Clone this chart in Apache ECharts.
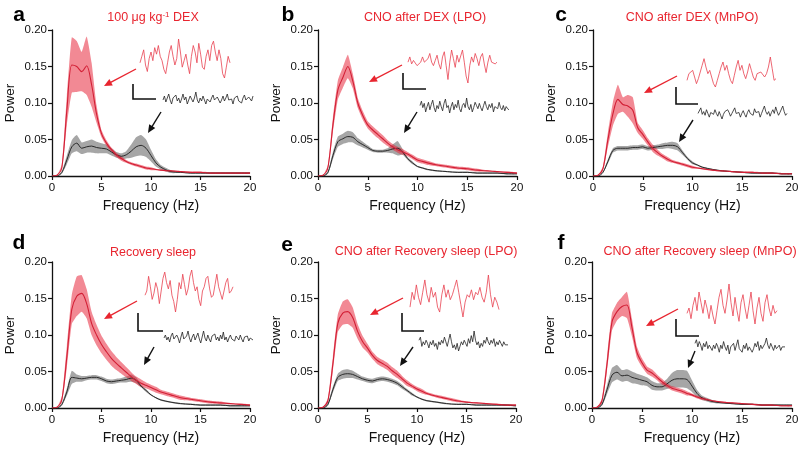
<!DOCTYPE html>
<html><head><meta charset="utf-8">
<script src="https://cdn.jsdelivr.net/npm/echarts@6/dist/echarts.min.js"></script>
<style>html,body{margin:0;padding:0;background:#fff}#c{width:800px;height:455px}</style>
</head><body><div id="c"></div><script>
// ---------- DATA ----------
const freq = [0,0.5,1,1.5,2,2.5,3,3.5,4,4.5,5,5.5,6,6.5,7,7.5,8,8.5,9,9.5,10,10.5,11,12,13,14,15,16,17,18,19,20];
const yTicks = [0, 0.05, 0.10, 0.15, 0.20];
const xTicks = [0, 5, 10, 15, 20];
const panelLetters = ['a','b','c','d','e','f'];
const panelTitles = ['100 μg kg{sup|-1} DEX','CNO after DEX (LPO)','CNO after DEX (MnPO)','Recovery sleep','CNO after Recovery sleep (LPO)','CNO after Recovery sleep (MnPO)'];

const aRedMean = [0,0.001,0.012,0.09,0.152,0.150,0.143,0.151,0.125,0.085,0.058,0.045,0.036,0.029,0.024,0.020,0.017,0.015,0.013,0.011,0.010,0.009,0.008,0.007,0.006,0.005,0.005,0.004,0.004,0.004,0.004,0.004];
const aRedSem  = [0,0,0.004,0.02,0.038,0.035,0.027,0.040,0.030,0.012,0.005,0.004,0.003,0.003,0.003,0.002,0.002,0.002,0.002,0.002,0.002,0.001,0.001,0.001,0.001,0.001,0.001,0.001,0.001,0.001,0.001,0.001];
const aBlkMean = [0,0,0.005,0.022,0.040,0.045,0.038,0.040,0.041,0.039,0.038,0.037,0.033,0.029,0.027,0.029,0.034,0.040,0.042,0.038,0.028,0.018,0.012,0.006,0.005,0.004,0.004,0.004,0.004,0.004,0.004,0.004];
const aBlkSem  = [0,0,0.002,0.006,0.009,0.011,0.008,0.008,0.009,0.008,0.007,0.006,0.005,0.004,0.004,0.005,0.009,0.013,0.014,0.012,0.008,0.005,0.003,0.002,0.001,0.001,0.001,0.001,0.001,0.001,0.001,0.001];

const bRedMean = [0,0.001,0.012,0.07,0.118,0.135,0.150,0.130,0.100,0.083,0.070,0.063,0.057,0.051,0.045,0.040,0.036,0.033,0.030,0.026,0.022,0.020,0.018,0.015,0.013,0.011,0.010,0.008,0.007,0.006,0.005,0.004];
const bRedSem  = [0,0,0.003,0.010,0.013,0.014,0.016,0.010,0.007,0.006,0.005,0.005,0.005,0.005,0.004,0.004,0.004,0.004,0.003,0.003,0.003,0.003,0.003,0.002,0.002,0.002,0.002,0.002,0.001,0.001,0.001,0.001];
const bBlkMean = [0,0,0.005,0.028,0.047,0.051,0.054,0.053,0.047,0.043,0.039,0.035,0.034,0.034,0.035,0.037,0.038,0.033,0.024,0.018,0.013,0.011,0.009,0.007,0.006,0.005,0.005,0.004,0.004,0.004,0.003,0.003];
const bBlkSem  = [0,0,0.002,0.005,0.007,0.007,0.008,0.007,0.005,0.004,0.003,0.002,0.002,0.002,0.003,0.006,0.010,0.004,0.002,0.002,0.001,0.001,0.001,0.001,0.001,0.001,0.001,0.001,0.001,0.001,0.001,0.001];

const cRedMean = [0,0.001,0.010,0.050,0.085,0.105,0.098,0.096,0.090,0.066,0.057,0.047,0.038,0.032,0.027,0.023,0.020,0.018,0.016,0.014,0.012,0.011,0.010,0.008,0.007,0.006,0.005,0.005,0.004,0.004,0.003,0.003];
const cRedSem  = [0,0,0.003,0.010,0.016,0.020,0.010,0.015,0.018,0.007,0.006,0.005,0.005,0.004,0.003,0.003,0.002,0.002,0.002,0.002,0.002,0.001,0.001,0.001,0.001,0.001,0.001,0.001,0.001,0.001,0.001,0.001];
const cBlkMean = [0,0,0.005,0.020,0.035,0.038,0.038,0.038,0.039,0.039,0.040,0.038,0.039,0.040,0.041,0.042,0.042,0.040,0.032,0.024,0.018,0.015,0.012,0.009,0.007,0.006,0.005,0.004,0.004,0.004,0.003,0.003];
const cBlkSem  = [0,0,0.001,0.003,0.003,0.003,0.003,0.003,0.003,0.003,0.003,0.003,0.003,0.003,0.004,0.004,0.005,0.005,0.003,0.002,0.002,0.001,0.001,0.001,0.001,0.001,0.001,0.001,0.001,0.001,0.001,0.001];

const dRedMean = [0,0.001,0.012,0.070,0.135,0.153,0.157,0.143,0.116,0.100,0.087,0.077,0.068,0.061,0.055,0.049,0.043,0.038,0.034,0.031,0.028,0.025,0.022,0.018,0.014,0.012,0.010,0.008,0.007,0.006,0.005,0.004];
const dRedSem  = [0,0,0.004,0.015,0.020,0.027,0.025,0.020,0.016,0.014,0.012,0.011,0.010,0.009,0.008,0.007,0.006,0.005,0.005,0.004,0.004,0.004,0.003,0.003,0.003,0.002,0.002,0.002,0.002,0.001,0.001,0.001];
const dBlkMean = [0,0,0.005,0.022,0.042,0.041,0.040,0.041,0.042,0.042,0.040,0.037,0.036,0.037,0.038,0.039,0.041,0.038,0.030,0.024,0.018,0.014,0.011,0.008,0.006,0.005,0.004,0.004,0.004,0.003,0.003,0.003];
const dBlkSem  = [0,0,0.002,0.005,0.009,0.005,0.004,0.003,0.003,0.003,0.003,0.003,0.003,0.003,0.003,0.004,0.005,0.004,0.002,0.002,0.001,0.001,0.001,0.001,0.001,0.001,0.001,0.001,0.001,0.001,0.001,0.001];

const eRedMean = [0,0.001,0.010,0.060,0.116,0.130,0.132,0.124,0.105,0.091,0.082,0.072,0.065,0.061,0.057,0.051,0.046,0.040,0.034,0.030,0.026,0.023,0.020,0.016,0.013,0.010,0.008,0.007,0.006,0.005,0.004,0.004];
const eRedSem  = [0,0,0.003,0.010,0.012,0.016,0.017,0.014,0.010,0.008,0.006,0.005,0.005,0.005,0.005,0.005,0.005,0.004,0.004,0.003,0.003,0.003,0.002,0.002,0.002,0.002,0.001,0.001,0.001,0.001,0.001,0.001];
const eBlkMean = [0,0,0.005,0.025,0.042,0.046,0.047,0.046,0.043,0.040,0.038,0.037,0.039,0.040,0.039,0.037,0.034,0.029,0.024,0.019,0.015,0.012,0.010,0.008,0.006,0.005,0.005,0.004,0.004,0.004,0.004,0.003];
const eBlkSem  = [0,0,0.002,0.004,0.005,0.006,0.006,0.005,0.004,0.003,0.003,0.003,0.003,0.003,0.003,0.003,0.003,0.003,0.002,0.002,0.001,0.001,0.001,0.001,0.001,0.001,0.001,0.001,0.001,0.001,0.001,0.001];

const fRedMean = [0,0.001,0.010,0.060,0.118,0.132,0.139,0.141,0.110,0.076,0.062,0.052,0.048,0.042,0.036,0.031,0.027,0.025,0.023,0.020,0.018,0.015,0.013,0.010,0.008,0.007,0.006,0.005,0.004,0.004,0.003,0.003];
const fRedSem  = [0,0,0.003,0.010,0.012,0.012,0.013,0.018,0.012,0.008,0.006,0.005,0.005,0.004,0.004,0.003,0.003,0.003,0.003,0.003,0.002,0.002,0.002,0.001,0.001,0.001,0.001,0.001,0.001,0.001,0.001,0.001];
const fBlkMean = [0,0,0.005,0.025,0.045,0.049,0.044,0.045,0.042,0.040,0.038,0.036,0.031,0.029,0.029,0.033,0.038,0.040,0.040,0.039,0.030,0.020,0.014,0.009,0.007,0.006,0.005,0.005,0.004,0.004,0.004,0.004];
const fBlkSem  = [0,0,0.002,0.006,0.010,0.010,0.008,0.008,0.008,0.007,0.007,0.006,0.006,0.005,0.005,0.007,0.010,0.012,0.012,0.012,0.008,0.005,0.003,0.002,0.001,0.001,0.001,0.001,0.001,0.001,0.001,0.001];

// example EEG traces (arbitrary units)
const aRedTrace = [0.45,0.6,0.75,0.4,0.25,0.55,0.7,0.5,0.8,0.65,0.85,0.6,0.5,0.3,0.2,0.45,0.7,0.85,0.6,0.4,0.55,1.0,0.7,0.35,0.5,0.65,0.4,0.2,0.6,0.85,0.7,0.45,0.9,0.65,0.35,0.3,0.6,0.75,0.5,0.85,0.95,0.7,0.5,0.75,0.55,0.2,0.1,0.35,0.6,0.45];
const bRedTrace = [0.6,0.75,0.55,0.65,0.7,0.5,0.45,0.6,0.75,0.6,0.55,0.7,0.85,0.6,0.5,0.65,0.8,0.55,0.4,0.75,0.9,0.5,0.1,0.6,0.95,0.7,0.45,0.8,0.6,0.55,0.95,0.6,0.2,0.0,0.5,0.75,0.6,0.85,0.7,0.5,0.75,0.85,0.55,0.3,0.6,0.8,0.6,0.65,0.55,0.6];
const cRedTrace = [0.3,0.5,0.45,0.6,0.4,0.2,0.35,0.55,0.75,0.95,0.7,0.5,0.6,0.4,0.2,0.1,0.3,0.5,0.7,0.85,0.6,0.75,0.5,0.3,0.2,0.45,0.7,0.9,0.6,0.75,0.5,0.35,0.55,0.8,0.6,0.4,0.3,0.5,0.45,0.55,0.6,0.4,0.5,0.7,1.0,0.65,0.3,0.35];
const dRedTrace = [0.4,0.5,0.85,0.6,0.3,0.45,0.7,0.55,0.2,0.5,0.8,0.95,0.7,0.55,0.75,0.4,0.25,0.0,0.3,0.7,0.55,0.9,0.65,0.4,0.55,0.85,1.0,0.7,0.5,0.6,0.3,0.15,0.5,0.6,0.8,0.85,0.55,0.35,0.4,0.65,0.9,0.6,0.45,0.3,0.5,0.7,0.8,0.45,0.5,0.6];
const eRedTrace = [0.3,0.6,0.45,0.75,0.5,0.35,0.6,0.85,0.55,0.4,0.7,0.5,0.6,0.3,0.2,0.55,0.75,0.5,0.65,0.45,0.55,0.7,0.85,0.6,0.35,0.1,0.4,0.55,0.5,0.65,0.45,0.6,0.55,0.7,0.5,0.4,0.6,0.95,0.55,0.3,0.5,0.4,0.25];
const fRedTrace = [0.45,0.55,0.35,0.6,0.75,0.5,0.85,0.65,0.45,0.7,0.55,0.35,0.6,0.4,0.25,0.5,0.75,0.9,0.6,0.45,0.7,1.0,0.65,0.4,0.75,0.5,0.3,0.65,0.8,0.55,0.35,0.6,0.85,0.5,0.25,0.55,0.75,0.45,0.3,0.65,0.8,0.55,0.4,0.6,0.45,0.5];
const aBlkTrace = [0.5,0.7,0.4,0.6,0.8,0.5,0.3,0.6,0.5,0.75,0.45,0.6,0.35,0.55,0.8,0.5,0.65,0.3,0.5,0.7,0.55,0.4,0.6,0.9,0.5,0.35,0.6,0.45,0.7,0.5,0.3,0.55,0.65,0.4,0.6,0.75,0.5,0.4,0.65,0.55,0.35,0.5,0.7,0.45,0.6,0.8,0.5,0.4,0.55,0.3,0.6,0.5,0.7,0.45,0.55,0.35,0.6,0.75,0.5,0.4,0.65,0.55,0.45,0.7];
const bBlkTrace = [0.6,0.8,0.5,0.7,0.3,0.55,0.75,0.4,0.65,0.85,0.5,0.3,0.6,0.45,0.8,0.55,0.35,0.7,0.9,0.5,0.6,0.25,0.55,0.75,0.4,0.65,0.5,0.85,0.45,0.3,0.6,0.7,0.5,0.95,0.55,0.4,0.65,0.3,0.5,0.75,0.6,0.45,0.7,0.5,0.35,0.6,0.8,0.55,0.4,0.65,0.5,0.7,0.3,0.55,0.6,0.45,0.75,0.5,0.4,0.6,0.35,0.55,0.45,0.4];
const cBlkTrace = [0.5,0.6,0.8,0.45,0.6,0.4,0.7,0.5,0.3,0.55,0.65,0.45,0.7,0.5,0.35,0.6,0.4,0.2,0.45,0.6,0.5,0.7,0.55,0.35,0.5,0.6,0.8,0.5,0.4,0.55,0.3,0.5,0.65,0.45,0.3,0.55,0.7,0.5,0.6,0.4,0.75,0.55,0.45,0.6,0.3,0.5,0.7,0.9,0.6,0.45,0.6,0.35,0.55,0.7,0.5,0.85,0.6,0.4,0.55,0.65,0.9,0.6,0.4,0.5];
const dBlkTrace = [0.55,0.7,0.45,0.6,0.35,0.65,0.8,0.5,0.4,0.7,0.55,0.3,0.6,0.85,0.5,0.4,0.65,0.9,0.55,0.35,0.6,0.75,0.45,0.55,0.8,0.5,0.3,0.6,0.9,0.55,0.4,0.7,0.5,0.35,0.65,0.55,0.75,0.45,0.6,0.4,0.7,0.5,0.85,0.45,0.6,0.35,0.55,0.7,0.5,0.6,0.4,0.65,0.55,0.45,0.7,0.5,0.35,0.6,0.5,0.65,0.4,0.55,0.5,0.45];
const eBlkTrace = [0.6,0.7,0.4,0.55,0.45,0.6,0.5,0.35,0.55,0.45,0.6,0.4,0.5,0.3,0.55,0.45,0.6,0.5,0.7,0.55,0.4,0.6,0.8,0.55,0.35,0.45,0.3,0.5,0.25,0.4,0.55,0.45,0.6,0.5,0.4,0.65,0.5,0.75,0.55,0.9,0.6,0.45,0.55,0.35,0.5,0.4,0.6,0.5,0.7,0.55,0.45,0.6,0.5,0.65,0.4,0.55,0.45,0.6,0.5,0.4,0.55,0.45,0.5,0.45];
const fBlkTrace = [0.65,0.75,0.55,0.7,0.6,0.45,0.65,0.55,0.7,0.5,0.6,0.55,0.45,0.6,0.5,0.65,0.55,0.4,0.6,0.5,0.7,0.55,0.45,0.6,0.35,0.55,0.5,0.65,0.45,0.6,0.75,0.5,0.55,0.4,0.6,0.5,0.65,0.45,0.55,0.6,0.4,0.5,0.65,0.55,0.7,0.45,0.6,0.5,0.55,0.65,0.8,0.6,0.5,0.65,0.55,0.45,0.6,0.5,0.55,0.6,0.45,0.55,0.5,0.55];

const redMeans = [aRedMean,bRedMean,cRedMean,dRedMean,eRedMean,fRedMean];
const redSems  = [aRedSem,bRedSem,cRedSem,dRedSem,eRedSem,fRedSem];
const blkMeans = [aBlkMean,bBlkMean,cBlkMean,dBlkMean,eBlkMean,fBlkMean];
const blkSems  = [aBlkSem,bBlkSem,cBlkSem,dBlkSem,eBlkSem,fBlkSem];
const redTraces = [aRedTrace,bRedTrace,cRedTrace,dRedTrace,eRedTrace,fRedTrace];
const blkTraces = [aBlkTrace,bBlkTrace,cBlkTrace,dBlkTrace,eBlkTrace,fBlkTrace];

// ---------- LAYOUT ----------
const layout = [
 {grid:{left:52,top:30,width:198,height:146}, letter:[19,15], title:[153,18], red:{left:140,top:39,width:90,height:39}, blk:{left:163,top:92,width:90,height:12}, bar:[133,84,99,156], rA:[136,69,104,86], bA:[161,112,148,133]},
 {grid:{left:318,top:30,width:199,height:146}, letter:[288,15], title:[425,18], red:{left:408,top:50,width:89,height:33}, blk:{left:420,top:98,width:89,height:15}, bar:[403,73,89,426], rA:[402,65,369,82], bA:[417,112,404,133]},
 {grid:{left:593,top:30,width:199,height:146}, letter:[561,15], title:[692,18], red:{left:687,top:57,width:89,height:30}, blk:{left:698,top:106,width:89,height:13}, bar:[676,87,104,698], rA:[677,76,644,93], bA:[693,120,679,142]},
 {grid:{left:52,top:262,width:198,height:146}, letter:[19,243], title:[153,253], red:{left:145,top:270,width:88,height:42}, blk:{left:164,top:331,width:89,height:12}, bar:[138,313,331,163], rA:[137,301,104,319], bA:[154,347,144,365]},
 {grid:{left:318,top:262,width:198,height:146}, letter:[287,245], title:[426,252], red:{left:410,top:275,width:89,height:42}, blk:{left:419,top:331,width:89,height:20}, bar:[402,313,331,424], rA:[403,298,370,315], bA:[413,347,400,366]},
 {grid:{left:592,top:262,width:200,height:146}, letter:[561,243], title:[700,252], red:{left:687,top:284,width:90,height:40}, blk:{left:695,top:338,width:90,height:16}, bar:[676,319,336,699], rA:[678,309,646,326], bA:[695,351,688,368]}
];

const RED = '#e8252f';
const FONT = 'Liberation Sans, Arial, sans-serif';
const grids=[], xAxes=[], yAxes=[], series=[], graphic=[];

function bandSeries(idx, mean, sem, fill){
  return {
    type:'custom', xAxisIndex:idx, yAxisIndex:idx, silent:true, z:2,
    data: freq.map((f,k)=>[f, Math.max(0, mean[k]-sem[k]), mean[k]+sem[k]]),
    encode:{x:0, y:[1,2]},
    renderItem:(params, api)=>{
      if(params.dataIndexInside!==0) return null;
      const n = params.dataInsideLength, up=[], lo=[];
      for(let k=0;k<n;k++){
        up.push(api.coord([api.value(0,k), api.value(2,k)]));
        lo.push(api.coord([api.value(0,k), api.value(1,k)]));
      }
      return {type:'polygon', shape:{points: up.concat(lo.reverse()), smooth:0.15}, style:{fill:fill}};
    }
  };
}

function arrow(p, color){
  const [x1,y1,x2,y2]=p, dx=x2-x1, dy=y2-y1, L=Math.hypot(dx,dy), ux=dx/L, uy=dy/L;
  const hl=8, hw=3.6, bx=x2-ux*hl, by=y2-uy*hl;
  return [
    {type:'line', z:100, shape:{x1:x1,y1:y1,x2:bx+ux*1,y2:by+uy*1}, style:{stroke:color, lineWidth:1.4}},
    {type:'polygon', z:100, shape:{points:[[x2,y2],[bx-uy*hw,by+ux*hw],[bx+uy*hw,by-ux*hw]]}, style:{fill:color}}
  ];
}

layout.forEach((L,i)=>{
  const gi = grids.length;
  grids.push(Object.assign({outerBoundsMode:'none', containLabel:false}, L.grid));
  xAxes.push({gridIndex:gi, type:'value', min:xTicks[0], max:xTicks[xTicks.length-1], interval:xTicks[1]-xTicks[0],
    splitLine:{show:false}, axisLine:{show:true, onZero:false, lineStyle:{color:'#111', width:1.3}},
    axisTick:{show:true, length:4, lineStyle:{color:'#111', width:1.2}},
    axisLabel:{fontSize:11.5, color:'#111', margin:6, fontFamily:FONT},
    name:'Frequency (Hz)', nameLocation:'middle', nameGap:23, nameTextStyle:{fontSize:14, color:'#111', fontFamily:FONT}});
  yAxes.push({gridIndex:gi, type:'value', min:yTicks[0], max:yTicks[yTicks.length-1], interval:yTicks[1]-yTicks[0],
    splitLine:{show:false}, axisLine:{show:true, onZero:false, lineStyle:{color:'#111', width:1.3}},
    axisTick:{show:true, length:4, lineStyle:{color:'#111', width:1.2}},
    axisLabel:{fontSize:11.5, color:'#111', margin:5, fontFamily:FONT, formatter:v=>v.toFixed(2)},
    name:'Power', nameLocation:'middle', nameGap:35, nameTextStyle:{fontSize:13.5, color:'#111', fontFamily:FONT}});
  series.push(bandSeries(gi, blkMeans[i], blkSems[i], 'rgba(70,70,70,0.48)'));
  series.push(bandSeries(gi, redMeans[i], redSems[i], 'rgba(232,40,60,0.55)'));
  series.push({type:'line', xAxisIndex:gi, yAxisIndex:gi, showSymbol:false, smooth:0.3, silent:true, z:3,
    data: freq.map((f,k)=>[f, blkMeans[i][k]]), lineStyle:{color:'#2a2a2a', width:1}});
  series.push({type:'line', xAxisIndex:gi, yAxisIndex:gi, showSymbol:false, smooth:0.3, silent:true, z:4,
    data: freq.map((f,k)=>[f, redMeans[i][k]]), lineStyle:{color:'#d21f35', width:1.1}});

  // traces
  [[L.red, redTraces[i], '#e8404f'], [L.blk, blkTraces[i], '#222']].forEach(([g, tr, col])=>{
    const ti = grids.length;
    grids.push(Object.assign({outerBoundsMode:'none', containLabel:false}, g));
    xAxes.push({gridIndex:ti, type:'category', show:false, boundaryGap:false, data: tr.map((_,k)=>k)});
    yAxes.push({gridIndex:ti, type:'value', show:false, min:'dataMin', max:'dataMax', splitLine:{show:false}});
    series.push({type:'line', xAxisIndex:ti, yAxisIndex:ti, showSymbol:false, silent:true, data: tr,
      lineStyle:{color:col, width:0.8}});
  });

  // annotations
  const b=L.bar;
  graphic.push({type:'polyline', z:100, shape:{points:[[b[0],b[1]],[b[0],b[2]],[b[3],b[2]]]}, style:{stroke:'#111', lineWidth:1.6, fill:null}});
  graphic.push(...arrow(L.rA, RED));
  graphic.push(...arrow(L.bA, '#111'));
  graphic.push({type:'text', z:100, x:L.letter[0], y:L.letter[1], style:{text:panelLetters[i], font:'bold 21px '+FONT, fill:'#000', align:'center', verticalAlign:'middle'}});
  graphic.push({type:'text', z:100, x:L.title[0], y:L.title[1], style:{text:panelTitles[i], font:'12.5px '+FONT, fill:RED, align:'center', verticalAlign:'middle',
    rich:{sup:{fontSize:8, fill:RED, verticalAlign:'top', padding:[0,0,6,0]}}}});
});

const chart = echarts.init(document.getElementById('c'), null, {renderer:'canvas'});
chart.setOption({animation:false, backgroundColor:'#fff', grid:grids, xAxis:xAxes, yAxis:yAxes, series:series, graphic:graphic});
</script></body></html>
